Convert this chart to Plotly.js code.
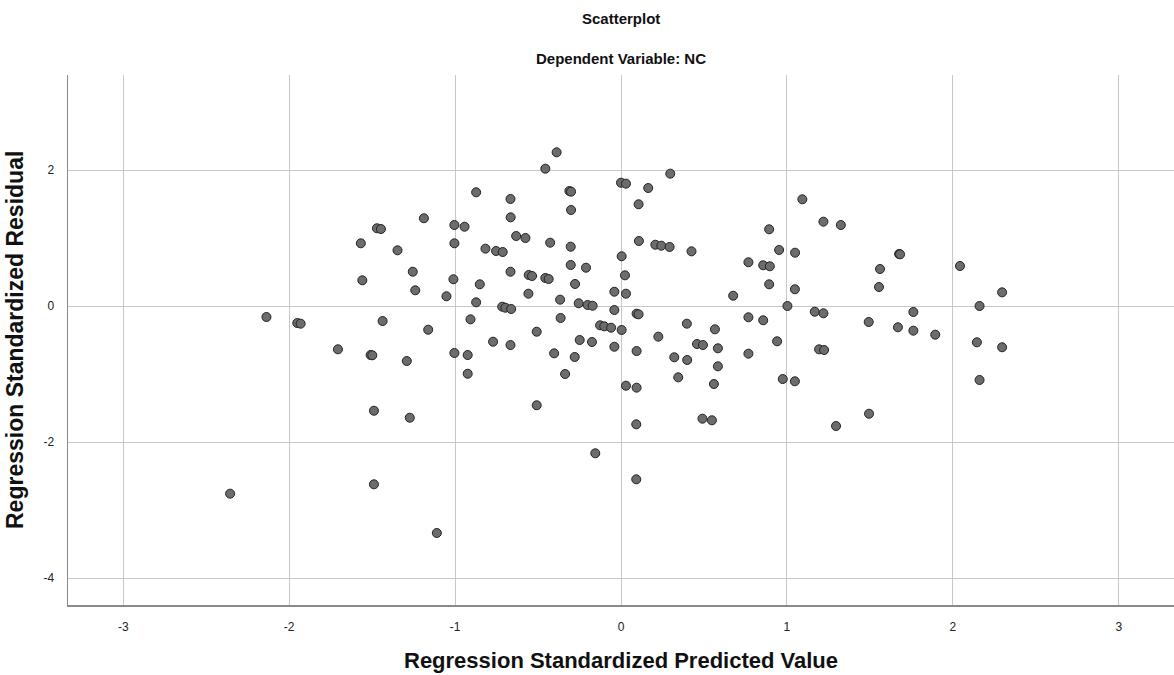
<!DOCTYPE html>
<html>
<head>
<meta charset="utf-8">
<script src="https://cdn.plot.ly/plotly-3.0.1.min.js"></script>
<style>html,body{margin:0;padding:0;background:#fff;}#chart{width:1174px;height:675px;}</style>
</head>
<body>
<div id="chart"></div>
<script>
const predicted = [
-0.873,-1.188,-1.004,-0.943,-1.471,-1.447,-1.568,-1.004,-1.347,-0.817,-0.753,-1.255,-1.559,-1.010,-0.851,-1.240,-1.052,-0.873,-2.137,-1.951,-1.931,-1.437,-1.162,-0.907,-0.771,-1.706,-1.509,-1.499,-1.291,-1.004,-0.924,
-0.388,-0.456,0.297,0.000,0.030,-0.666,0.164,-0.311,-0.301,0.106,-0.301,-0.665,0.893,-0.632,-0.576,0.108,0.207,0.243,0.293,0.425,-0.713,-0.427,-0.303,0.004,0.953,0.768,0.857,0.897,-0.666,-0.303,-0.211,-0.556,-0.536,-0.456,-0.436,0.024,-0.277,0.893,-0.558,-0.367,-0.040,0.030,0.676,-0.716,-0.697,-0.662,-0.255,-0.201,-0.171,-0.040,0.094,0.106,-0.364,0.768,0.857,-0.126,-0.101,-0.060,0.004,0.397,0.566,0.225,-0.508,-0.666,-0.249,-0.175,-0.040,0.094,0.458,0.494,0.584,0.768,0.941,-0.403,-0.279,0.321,0.399,
1.093,1.220,1.325,1.049,1.676,1.682,1.561,2.043,1.048,1.555,2.297,1.003,2.161,1.168,1.220,1.762,1.493,1.669,1.762,1.894,1.194,1.224,2.145,2.297,
-0.924,-1.489,-1.273,-2.356,-1.489,-1.110,
-0.337,0.345,0.584,0.560,0.030,0.094,-0.508,0.092,0.491,0.548,-0.155,0.092,
0.975,1.048,2.161,1.495,1.296
];
const residual = [
1.672,1.290,1.191,1.166,1.143,1.132,0.922,0.922,0.819,0.843,0.809,0.504,0.378,0.393,0.319,0.231,0.143,0.054,-0.162,-0.250,-0.260,-0.221,-0.349,-0.196,-0.525,-0.637,-0.721,-0.725,-0.809,-0.691,-0.721,
2.260,2.019,1.946,1.813,1.799,1.574,1.735,1.691,1.681,1.496,1.412,1.304,1.128,1.029,1.000,0.956,0.901,0.887,0.868,0.804,0.794,0.931,0.872,0.731,0.824,0.643,0.599,0.584,0.504,0.603,0.563,0.456,0.441,0.412,0.397,0.451,0.324,0.319,0.181,0.093,0.210,0.181,0.151,-0.010,-0.025,-0.044,0.040,0.015,0.004,-0.059,-0.113,-0.122,-0.176,-0.166,-0.210,-0.284,-0.299,-0.319,-0.353,-0.260,-0.343,-0.451,-0.378,-0.574,-0.500,-0.529,-0.599,-0.662,-0.559,-0.574,-0.622,-0.701,-0.519,-0.696,-0.750,-0.754,-0.794,
1.569,1.240,1.191,0.784,0.765,0.760,0.544,0.588,0.246,0.279,0.201,0.000,0.000,-0.084,-0.107,-0.088,-0.235,-0.313,-0.363,-0.422,-0.637,-0.647,-0.534,-0.607,
-0.996,-1.540,-1.643,-2.760,-2.622,-3.338,
-1.000,-1.049,-0.887,-1.147,-1.172,-1.201,-1.460,-1.740,-1.657,-1.681,-2.166,-2.549,
-1.074,-1.107,-1.088,-1.584,-1.765
];
const xTicks = [-3,-2,-1,0,1,2,3];
const yTicks = [-4,-2,0,2];
const chartTitle = "Scatterplot";
const chartSubtitle = "Dependent Variable: NC";
const xLabel = "Regression Standardized Predicted Value";
const yLabel = "Regression Standardized Residual";

const trace = {
  x: predicted, y: residual, type: 'scatter', mode: 'markers',
  marker: {size: 9, color: 'rgb(108,108,108)', line: {color: 'rgb(35,35,35)', width: 1}},
  hoverinfo: 'x+y'
};
const tickFont = {family: 'Liberation Sans Narrow, Liberation Sans, Arial, sans-serif', size: 12, color: '#222'};
const layout = {
  width: 1174, height: 675,
  margin: {l: 68, r: 0, t: 75, b: 70},
  paper_bgcolor: '#fff', plot_bgcolor: '#fff',
  showlegend: false,
  xaxis: {
    range: [-3.333, 3.333], tickvals: xTicks, ticktext: xTicks.map(String),
    showgrid: true, gridcolor: '#c8c8c8', gridwidth: 1, zeroline: false,
    showline: true, linecolor: '#8a8a8a', linewidth: 1.5, ticks: '',
    tickfont: tickFont, ticklabelstandoff: 10
  },
  yaxis: {
    range: [-4.397, 3.397], tickvals: yTicks, ticktext: yTicks.map(String),
    showgrid: true, gridcolor: '#c8c8c8', gridwidth: 1, zeroline: false,
    showline: true, linecolor: '#8a8a8a', linewidth: 1.5, ticks: '',
    tickfont: {family: 'Liberation Sans, Arial, sans-serif', size: 12, color: '#222'}, ticklabelstandoff: 10
  },
  annotations: [
    {text: '<b>' + chartTitle + '</b>', xref: 'paper', yref: 'paper', x: 0.5, y: 1, yshift: 57, showarrow: false,
     font: {family: 'Liberation Sans, Arial, sans-serif', size: 15, color: '#111'}, xanchor: 'center', yanchor: 'middle'},
    {text: '<b>' + chartSubtitle + '</b>', xref: 'paper', yref: 'paper', x: 0.5, y: 1, yshift: 17, showarrow: false,
     font: {family: 'Liberation Sans, Arial, sans-serif', size: 15, color: '#111'}, xanchor: 'center', yanchor: 'middle'},
    {text: '<b>' + xLabel + '</b>', xref: 'paper', yref: 'paper', x: 0.5, y: 0, yshift: -55, showarrow: false,
     font: {family: 'Liberation Sans, Arial, sans-serif', size: 22, color: '#111'}, xanchor: 'center', yanchor: 'middle'},
    {text: '<b>' + yLabel + '</b>', xref: 'paper', yref: 'paper', x: 0, y: 0.5, xshift: -53, showarrow: false, textangle: -90,
     font: {family: 'Liberation Sans, Arial, sans-serif', size: 23, color: '#111'}, xanchor: 'center', yanchor: 'middle'}
  ]
};
Plotly.newPlot('chart', [trace], layout, {displayModeBar: false, staticPlot: true});
</script>
</body>
</html>
